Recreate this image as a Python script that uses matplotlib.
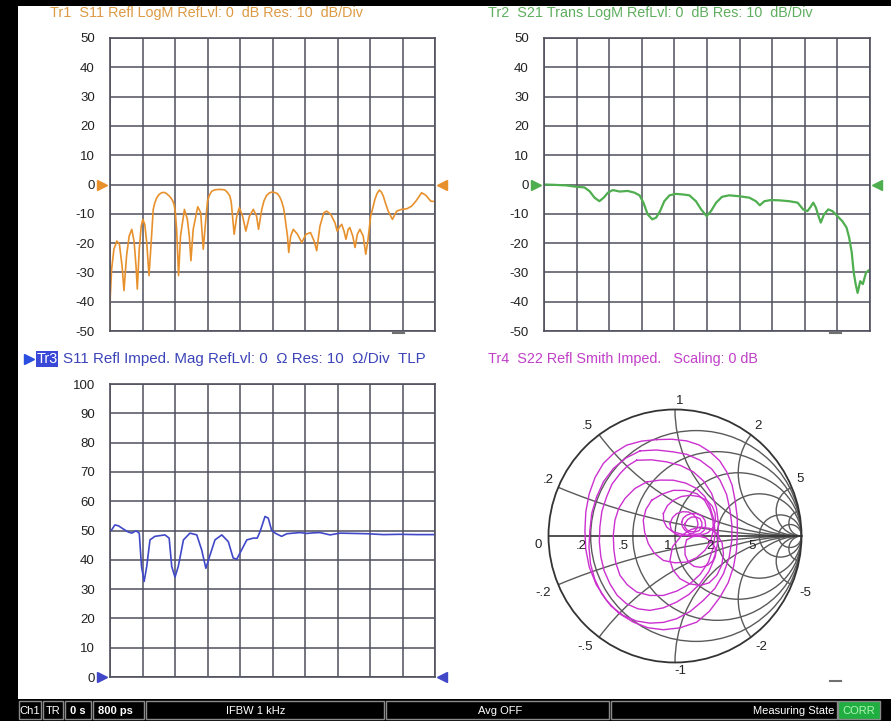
import matplotlib
matplotlib.use('Agg')
import matplotlib.pyplot as plt
from matplotlib.patches import Circle, Rectangle

plt.rcParams['font.family'] = ['Liberation Sans', 'DejaVu Sans']
plt.rcParams['axes.unicode_minus'] = False

# Tr1: S11 LogM (dB) vs. sweep divisions
s11_x = [0.00, 0.00, 0.05, 0.12, 0.21, 0.29, 0.37, 0.43, 0.51, 0.59, 0.67, 0.74, 0.80, 0.84, 0.90,
         0.96, 1.01, 1.07, 1.13, 1.20, 1.26, 1.33, 1.38, 1.44, 1.51, 1.59, 1.67, 1.74, 1.81, 1.87,
         1.93, 1.97, 2.01, 2.05, 2.11, 2.17, 2.29, 2.38, 2.44, 2.49, 2.56, 2.70, 2.79, 2.87, 2.93,
         3.00, 3.06, 3.13, 3.23, 3.33, 3.44, 3.54, 3.62, 3.69, 3.73, 3.76, 3.82, 3.90, 3.98, 4.08,
         4.18, 4.29, 4.41, 4.51, 4.57, 4.67, 4.74, 4.82, 4.90, 4.97, 5.06, 5.15, 5.22, 5.28, 5.34,
         5.38, 5.46, 5.50, 5.56, 5.64, 5.77, 5.90, 6.03, 6.17, 6.28, 6.36, 6.46, 6.58, 6.67, 6.79,
         6.92, 6.99, 7.08, 7.13, 7.20, 7.26, 7.33, 7.38, 7.47, 7.54, 7.61, 7.69, 7.79, 7.87, 7.94,
         8.02, 8.09, 8.15, 8.22, 8.29, 8.35, 8.41, 8.48, 8.56, 8.69, 8.82, 8.97, 9.13, 9.28, 9.41,
         9.59, 9.72, 9.87, 10.0]
s11_db = [-50.0, -40.2, -28.9, -22.1, -19.3, -20.4, -27.7, -36.2, -24.3, -17.6, -15.3, -19.3, -27.7,
          -35.7, -22.1, -14.2, -11.9, -13.6, -19.8, -31.1, -21.0, -8.5, -6.2, -4.5, -3.4, -2.8, -2.7,
          -3.1, -3.8, -4.5, -5.6, -6.8, -9.5, -15.3, -31.1, -17.6, -8.5, -11.9, -17.6, -26.0, -15.3,
          -7.6, -9.6, -22.1, -14.2, -5.7, -3.6, -2.3, -1.8, -1.7, -1.7, -1.9, -2.8, -4.0, -6.0, -9.6,
          -17.0, -10.8, -7.9, -10.8, -15.9, -10.8, -8.5, -10.8, -15.3, -8.5, -5.5, -3.7, -2.9, -2.6,
          -2.7, -3.1, -4.2, -5.7, -8.0, -10.8, -17.6, -23.2, -17.6, -15.3, -17.0, -19.8, -17.0,
          -16.4, -19.3, -22.6, -14.2, -9.6, -9.1, -10.2, -13.0, -15.9, -14.2, -13.6, -15.9, -18.7,
          -15.3, -14.7, -17.6, -21.5, -17.0, -15.3, -17.6, -23.8, -18.7, -10.8, -7.8, -5.1, -3.0,
          -1.9, -2.6, -4.0, -6.5, -9.1, -11.9, -9.1, -8.5, -8.3, -7.4, -5.7, -2.8, -3.7, -5.7, -5.8]

# Tr2: S21 LogM (dB)
s21_x = [0.00, 0.28, 0.68, 1.01, 1.24, 1.40, 1.55, 1.70, 1.83, 1.96, 2.11, 2.32, 2.57, 2.78, 2.93,
         3.05, 3.18, 3.32, 3.44, 3.56, 3.69, 3.85, 4.05, 4.26, 4.46, 4.66, 4.82, 4.99, 5.12, 5.28,
         5.46, 5.68, 5.99, 6.30, 6.50, 6.62, 6.76, 6.96, 7.21, 7.52, 7.78, 7.95, 8.08, 8.18, 8.26,
         8.34, 8.42, 8.49, 8.59, 8.72, 8.85, 9.00, 9.15, 9.28, 9.36, 9.44, 9.50, 9.56, 9.62, 9.70,
         9.78, 9.88, 10.0]
s21_db = [0.0, -0.1, -0.3, -0.8, -1.0, -2.3, -4.5, -5.7, -4.5, -2.8, -1.9, -2.4, -2.2, -2.8, -3.7,
          -6.2, -10.2, -11.9, -11.3, -9.1, -5.7, -3.7, -3.2, -3.4, -3.7, -5.7, -8.5, -10.8, -9.1,
          -6.2, -4.2, -3.7, -4.0, -4.5, -5.7, -7.1, -5.7, -5.3, -5.4, -5.7, -6.2, -8.5, -9.1, -7.6,
          -6.2, -7.9, -10.8, -13.0, -10.2, -8.5, -9.1, -10.8, -12.5, -14.7, -18.1, -23.2, -30.0,
          -34.0, -37.0, -33.0, -34.0, -30.0, -29.0]

# Tr3: S11 impedance magnitude (Ohm)
z_x = [0.00, 0.05, 0.15, 0.26, 0.41, 0.56, 0.67, 0.80, 0.90, 0.97, 1.05, 1.13, 1.23, 1.38, 1.69,
       1.82, 1.90, 2.00, 2.10, 2.26, 2.46, 2.67, 2.82, 2.95, 3.08, 3.23, 3.44, 3.64, 3.79, 3.90,
       4.05, 4.21, 4.41, 4.53, 4.62, 4.77, 4.87, 4.97, 5.08, 5.28, 5.44, 5.64, 5.85, 6.05, 6.26,
       6.46, 6.77, 7.08, 7.49, 7.90, 8.41, 8.92, 9.44, 10.0]
z_ohm = [50.0, 50.2, 51.9, 51.6, 50.5, 49.5, 49.1, 49.9, 49.1, 37.7, 32.6, 37.7, 46.8, 48.0, 48.5,
         47.4, 37.7, 34.1, 37.7, 46.8, 49.1, 48.5, 43.4, 37.1, 41.7, 46.8, 48.5, 46.2, 40.6, 40.2,
         43.4, 46.8, 47.4, 47.4, 49.7, 54.8, 54.2, 50.2, 49.1, 48.0, 48.9, 49.1, 49.3, 49.0, 49.2,
         49.3, 48.5, 49.1, 49.0, 48.9, 48.6, 48.7, 48.6, 48.6]

# Tr4: S22 on the Smith chart, reflection coefficient (re, im), loop by loop
s22_loops = [
    [(-0.145, 0.762), (-0.027, 0.765), (0.092, 0.752), (0.190, 0.720), (0.277, 0.665), (0.353, 0.595),
     (0.409, 0.507), (0.452, 0.400), (0.475, 0.282), (0.492, 0.150), (0.493, 0.018), (0.486, -0.115),
     (0.462, -0.245), (0.420, -0.370), (0.356, -0.483), (0.272, -0.595), (0.172, -0.681),
     (0.040, -0.726), (-0.092, -0.741), (-0.215, -0.725), (-0.330, -0.681), (-0.445, -0.610),
     (-0.541, -0.509), (-0.622, -0.385), (-0.678, -0.245), (-0.706, -0.100), (-0.712, 0.045),
     (-0.705, 0.192), (-0.678, 0.335), (-0.632, 0.462), (-0.567, 0.573), (-0.482, 0.656),
     (-0.383, 0.718), (-0.265, 0.750)],
    [(-0.277, 0.673), (-0.145, 0.680), (-0.013, 0.665), (0.095, 0.645), (0.198, 0.599), (0.290, 0.530),
     (0.356, 0.441), (0.408, 0.328), (0.435, 0.203), (0.450, 0.085), (0.449, -0.034), (0.428, -0.170),
     (0.383, -0.298), (0.315, -0.415), (0.224, -0.509), (0.122, -0.595), (0.013, -0.654),
     (-0.092, -0.683), (-0.198, -0.689), (-0.305, -0.672), (-0.409, -0.628), (-0.505, -0.555),
     (-0.580, -0.456), (-0.635, -0.340), (-0.668, -0.219), (-0.680, -0.088), (-0.673, 0.045),
     (-0.658, 0.180), (-0.620, 0.309), (-0.565, 0.430), (-0.488, 0.533), (-0.390, 0.615)],
    [(-0.303, 0.599), (-0.185, 0.602), (-0.066, 0.586), (0.042, 0.558), (0.145, 0.507), (0.228, 0.432),
     (0.290, 0.335), (0.328, 0.220), (0.343, 0.098), (0.340, -0.035), (0.317, -0.166), (0.268, -0.280),
     (0.198, -0.377), (0.110, -0.462), (0.013, -0.522), (-0.092, -0.568), (-0.198, -0.588),
     (-0.292, -0.576), (-0.383, -0.536), (-0.458, -0.468), (-0.515, -0.377), (-0.560, -0.275),
     (-0.586, -0.166), (-0.598, -0.048), (-0.594, 0.071), (-0.578, 0.195), (-0.541, 0.309),
     (-0.498, 0.410), (-0.435, 0.493), (-0.375, 0.555)],
    [(-0.224, 0.427), (-0.118, 0.442), (-0.013, 0.441), (0.085, 0.418), (0.172, 0.375), (0.235, 0.312),
     (0.277, 0.230), (0.308, 0.125), (0.317, 0.018), (0.302, -0.095), (0.264, -0.206), (0.200, -0.302),
     (0.119, -0.377), (0.015, -0.435), (-0.092, -0.470), (-0.200, -0.470), (-0.303, -0.443),
     (-0.378, -0.385), (-0.435, -0.311), (-0.468, -0.212), (-0.483, -0.113), (-0.488, 0.005),
     (-0.475, 0.124), (-0.445, 0.218), (-0.396, 0.296), (-0.318, 0.375)],
    [(-0.185, 0.282), (-0.100, 0.332), (-0.013, 0.361), (0.080, 0.360), (0.172, 0.335), (0.235, 0.280),
     (0.277, 0.203), (0.300, 0.125), (0.303, 0.045), (0.282, -0.040), (0.237, -0.113), (0.170, -0.172),
     (0.092, -0.206), (0.000, -0.212), (-0.092, -0.193), (-0.165, -0.135), (-0.211, -0.061),
     (-0.240, 0.030), (-0.251, 0.124), (-0.230, 0.210)],
    [(-0.092, 0.177), (-0.060, 0.240), (-0.013, 0.282), (0.050, 0.312), (0.119, 0.322), (0.190, 0.312),
     (0.251, 0.282), (0.295, 0.235), (0.317, 0.177), (0.320, 0.120), (0.303, 0.071), (0.260, 0.025),
     (0.198, 0.005), (0.115, 0.000), (0.040, 0.018), (-0.020, 0.035), (-0.066, 0.071), (-0.090, 0.120)],
    [(0.053, 0.005), (0.125, 0.050), (0.198, 0.071), (0.275, 0.060), (0.330, 0.018), (0.372, -0.055),
     (0.383, -0.140), (0.370, -0.230), (0.330, -0.311), (0.270, -0.370), (0.198, -0.391),
     (0.115, -0.378), (0.040, -0.338), (-0.015, -0.270), (-0.040, -0.193), (-0.020, -0.085)],
    [(0.092, -0.030), (0.140, -0.005), (0.185, 0.000), (0.245, -0.015), (0.290, -0.050), (0.318, -0.095),
     (0.320, -0.140), (0.300, -0.195), (0.260, -0.230), (0.205, -0.248), (0.150, -0.240), (0.105, -0.205),
     (0.080, -0.150), (0.078, -0.085)],
    [(-0.040, 0.098), (-0.020, 0.145), (0.013, 0.177), (0.060, 0.192), (0.106, 0.190), (0.145, 0.170),
     (0.172, 0.137), (0.182, 0.095), (0.172, 0.058), (0.140, 0.020), (0.092, 0.005), (0.040, 0.003),
     (0.000, 0.018), (-0.030, 0.050)],
    [(0.053, 0.111), (0.065, 0.142), (0.092, 0.164), (0.130, 0.178), (0.172, 0.177), (0.212, 0.158),
     (0.237, 0.124), (0.242, 0.082), (0.230, 0.045), (0.200, 0.018), (0.158, 0.013), (0.112, 0.022),
     (0.079, 0.045), (0.058, 0.076)],
    [(0.079, 0.098), (0.100, 0.130), (0.132, 0.150), (0.168, 0.150), (0.198, 0.137), (0.213, 0.105),
     (0.211, 0.071), (0.190, 0.042), (0.158, 0.032), (0.120, 0.035), (0.092, 0.050), (0.078, 0.072)],
]

smith_r = [0.2, 0.5, 1, 2, 5, 10]
smith_x = [0.2, 0.5, 1, 2, 5, 10]

W, H = 891, 721
fig = plt.figure(figsize=(W / 100, H / 100), dpi=100)

# full-figure axes in pixel coordinates for frame, headers, status bar
bg = fig.add_axes([0, 0, 1, 1], zorder=0)
bg.set_xlim(0, W)
bg.set_ylim(H, 0)
bg.axis('off')


def px_axes(x0, y0, x1, y1):
    return fig.add_axes([x0 / W, 1 - y1 / H, (x1 - x0) / W, (y1 - y0) / H], zorder=2)


GRID = '#50505e'


def style_grid(ax, ylim, step):
    ax.set_xlim(0, 10)
    ax.set_ylim(*ylim)
    ax.set_xticks(range(11))
    ax.set_yticks(range(ylim[0], ylim[1] + 1, step))
    ax.set_xticklabels([])
    ax.grid(True, color=GRID, lw=1.1)
    ax.tick_params(length=0, pad=11, labelsize=9.5, labelcolor='#222222')
    for s in ax.spines.values():
        s.set_color(GRID)
        s.set_linewidth(1.2)
    ax.set_facecolor('white')


ORANGE = '#e8912c'
GREEN = '#4fae4f'
BLUE = '#4048c8'
MAGENTA = '#cc30d0'

# Tr1
ax1 = px_axes(110, 38, 435, 331)
style_grid(ax1, (-50, 50), 10)
ax1.plot(s11_x, s11_db, color=ORANGE, lw=1.2)
ax1.plot([-0.25], [0], marker='>', color=ORANGE, ms=7, clip_on=False)
ax1.plot([10.2], [0], marker='<', color=ORANGE, ms=7, clip_on=False)

# Tr2
ax2 = px_axes(544, 38, 870, 331)
style_grid(ax2, (-50, 50), 10)
ax2.plot(s21_x, s21_db, color=GREEN, lw=1.6)
ax2.plot([-0.25], [0], marker='>', color=GREEN, ms=7, clip_on=False)
ax2.plot([10.2], [0], marker='<', color=GREEN, ms=7, clip_on=False)

# Tr3
ax3 = px_axes(110, 384, 435, 677)
style_grid(ax3, (0, 100), 10)
ax3.plot(z_x, z_ohm, color=BLUE, lw=1.2)
ax3.plot([-0.25], [0], marker='>', color=BLUE, ms=7, clip_on=False)
ax3.plot([10.2], [0], marker='<', color=BLUE, ms=7, clip_on=False)

# Tr4 Smith chart
cx, cy, R = 675, 536, 126.5
half = 150
ax4 = px_axes(cx - half, cy - half, cx + half, cy + half)
lim = half / R
ax4.set_xlim(-lim, lim)
ax4.set_ylim(-lim, lim)
ax4.axis('off')
unit = Circle((0, 0), 1, transform=ax4.transData, fill=False, ec='none')
ax4.add_patch(unit)
SG = '#5a5a5a'
for r in smith_r:
    c = Circle((r / (1 + r), 0), 1 / (1 + r), fill=False, ec=SG, lw=1.0)
    ax4.add_patch(c)
    c.set_clip_path(unit)
for xv in smith_x:
    for sgn in (1, -1):
        c = Circle((1, sgn / xv), 1 / xv, fill=False, ec=SG, lw=1.0)
        ax4.add_patch(c)
        c.set_clip_path(unit)
ax4.plot([-1, 1], [0, 0], color='#333333', lw=1.2)
ax4.add_patch(Circle((0, 0), 1, fill=False, ec='#333333', lw=1.3))

for loop in s22_loops:
    pts = loop + [loop[0]]
    ax4.plot([p[0] for p in pts], [p[1] for p in pts], color=MAGENTA, lw=1.0,
             solid_joinstyle='round')

lab = dict(fontsize=9.5, color='#222222')
ax4.text(0.04, 1.07, '1', ha='center', va='center', **lab)
ax4.text(0.04, -1.07, '-1', ha='center', va='center', **lab)
ax4.text(-0.69, 0.87, '.5', ha='center', va='center', **lab)
ax4.text(-0.71, -0.88, '-.5', ha='center', va='center', **lab)
ax4.text(0.66, 0.87, '2', ha='center', va='center', **lab)
ax4.text(0.68, -0.88, '-2', ha='center', va='center', **lab)
ax4.text(-1.0, 0.44, '.2', ha='center', va='center', **lab)
ax4.text(-1.04, -0.45, '-.2', ha='center', va='center', **lab)
ax4.text(0.99, 0.45, '5', ha='center', va='center', **lab)
ax4.text(1.03, -0.45, '-5', ha='center', va='center', **lab)
ax4.text(-1.08, -0.07, '0', ha='center', va='center', **lab)
for r, s in zip([0.2, 0.5, 1, 2, 5], ['.2', '.5', '1', '2', '5']):
    ax4.text((r - 1) / (r + 1) - 0.03, -0.08, s, ha='right', va='center', **lab)

# headers
hfs = 10.4
bg.text(50, 13, 'Tr1  S11 Refl LogM RefLvl: 0  dB Res: 10  dB/Div', color='#dc9a44',
        fontsize=hfs, va='center')
bg.text(488, 13, 'Tr2  S21 Trans LogM RefLvl: 0  dB Res: 10  dB/Div', color='#5fae5f',
        fontsize=hfs, va='center')
bg.plot([29], [359], marker='>', color='#2a4fe0', ms=7)
bg.add_patch(Rectangle((36, 351), 22, 16, fc='#3a48d8', ec='none'))
bg.text(47, 359, 'Tr3', color='white', fontsize=hfs, va='center', ha='center')
bg.text(63, 359, 'S11 Refl Imped. Mag RefLvl: 0  \u03a9 Res: 10  \u03a9/Div  TLP', color='#3c44b8',
        fontsize=10.9, va='center')
bg.text(488, 359, 'Tr4  S22 Refl Smith Imped.   Scaling: 0 dB', color='#c040c8',
        fontsize=hfs, va='center')

# small gray dashes under the plots
for x0, y0 in [(393, 333), (830, 333), (830, 681)]:
    bg.plot([x0, x0 + 11], [y0, y0], color='#707070', lw=1.5)

# frame
bg.add_patch(Rectangle((0, 0), 18, H, fc='black', ec='none'))
bg.add_patch(Rectangle((0, 0), W, 6, fc='black', ec='none'))
bg.add_patch(Rectangle((0, 699), W, 22, fc='black', ec='none'))

# status bar
cells = [(18, 42, 'Ch1', 'center', False), (42, 64, 'TR', 'center', False),
         (64, 92, '0 s', 'center', True), (92, 145, '800 ps', 'left', True),
         (145, 385, 'IFBW 1 kHz', None, False), (385, 610, 'Avg OFF', None, False),
         (610, 838, 'Measuring State', 'right', False)]
sfont = ['Liberation Sans Narrow', 'Liberation Sans', 'DejaVu Sans']
for x0, x1, txt, ha, bold in cells:
    bg.add_patch(Rectangle((x0 + 1, 701), x1 - x0 - 2, 18, fc='black', ec='#8a8a8a', lw=1.0))
    if ha == 'center':
        tx = (x0 + x1) / 2
    elif ha == 'left':
        tx = x0 + 6
    elif ha == 'right':
        tx = x1 - 4
    else:
        tx = None
    if txt == 'IFBW 1 kHz':
        tx, ha = 256, 'center'
    if txt == 'Avg OFF':
        tx, ha = 500, 'center'
    bg.text(tx, 710.5, txt, color='white', fontsize=8, ha=ha, va='center', family=sfont,
            fontweight='bold' if bold else 'normal')
bg.add_patch(Rectangle((838, 701), 42, 18, fc='#1fae3f', ec='#8a8a8a', lw=1.0))
bg.text(859, 710.5, 'CORR', color='#b0f5b8', fontsize=8, ha='center', va='center', family=sfont)

fig.savefig('out.png', dpi=100)
